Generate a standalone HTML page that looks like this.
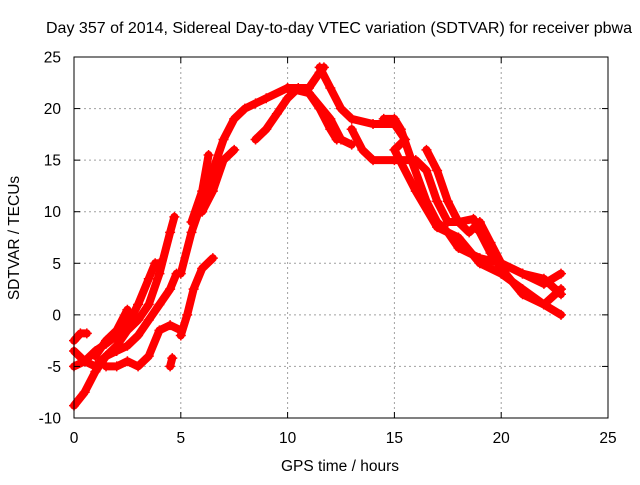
<!DOCTYPE html>
<html><head><meta charset="utf-8"><style>
body{margin:0;background:#fff}
svg{font-family:"Liberation Sans",sans-serif;font-size:15.5px}
</style></head><body>
<svg id="chart" width="640" height="480" xmlns="http://www.w3.org/2000/svg">
<text x="339" y="33" text-anchor="middle" font-size="16" textLength="586" lengthAdjust="spacingAndGlyphs">Day 357 of 2014, Sidereal Day-to-day VTEC variation (SDTVAR) for receiver pbwa</text>
<text x="340" y="471" text-anchor="middle">GPS time / hours</text>
<text transform="translate(19,238) rotate(-90)" text-anchor="middle">SDTVAR / TECUs</text>
<g id="grid"></g>
<g id="series"></g>
<rect x="74" y="57" width="534" height="361" fill="none" stroke="#000" stroke-width="1"/>
<g id="ticks"></g>
</svg>
<script>
const xTicks=[0,5,10,15,20,25];
const yTicks=[-10,-5,0,5,10,15,20,25];
const trackA=[[0,-8.8],[0.5,-7.5],[1,-5.5],[1.5,-4],[2,-3],[2.5,-1.5],[3,-0.5],[3.5,1],[4,4],[4.5,8],[4.7,9.5]];
const trackB=[[0,-2.5],[0.3,-1.8],[0.6,-1.8]];
const trackC=[[0,-5],[0.5,-4.5],[1,-3.5],[1.5,-2.8],[2,-2],[2.5,-1],[3,1],[3.5,3.5],[3.8,5],[4,5]];
const trackD=[[0,-3.5],[0.5,-4.5],[1,-5],[1.5,-4],[2,-3.5],[2.5,-3],[3,-2],[3.5,-0.5],[4,1],[4.5,2.5],[4.8,4]];
const trackE=[[1.5,-5],[2,-5],[2.5,-4.5],[3,-5],[3.5,-4],[4,-1.5],[4.5,-1],[5,-1.5]];
const trackF=[[1,-4],[1.5,-2.5],[2,-1.5],[2.5,0.5]];
const trackG=[[4.5,-5],[4.6,-4.2]];
const trackH=[[5,-2],[5.3,0],[5.6,2.5],[6,4.5],[6.5,5.5]];
const trackI=[[5,4],[5.5,8],[6,11],[6.5,14],[7,17],[7.5,19],[8,20],[8.5,20.5],[9,21],[10,22],[11,22],[11.5,23.5],[11.7,24]];
const trackJ=[[5.5,9],[6,12],[6.3,15.5]];
const trackK=[[6,10],[6.5,12],[7,15],[7.5,16]];
const trackL=[[8.5,17],[9,18],[9.5,19.5],[10,21],[10.5,22],[11,21.5],[11.5,20],[12,18],[12.3,17]];
const trackM=[[10,22],[11,21.5],[12,19],[12.5,17],[13,16.5]];
const trackN=[[11.5,24],[12,22],[12.5,20],[13,19],[14,18.5],[15,18.5],[15.5,17],[15,16],[16,12],[17,8.5],[18,7.5],[19,5],[20,4],[21,2.5],[22,1],[22.8,0]];
const trackO=[[13,18],[13.5,16],[14,15],[15,15],[16,15],[16.5,14],[17,11],[17.5,9],[18,9],[18.5,8],[19,9],[19.5,7],[20,5],[21,4],[22,3],[22.8,4]];
const trackP=[[14.5,19],[15,19],[15.3,18],[15.8,15],[16.5,11],[17,9],[17.5,8],[18,6.5],[19,5.5],[20,5],[21,4],[22,3.5],[22.8,2]];
const trackQ=[[16.5,16],[17,14],[17.5,11],[18,9],[18.7,9.3],[19,8],[19.5,6],[20,4.5],[21,2],[22,1],[22.8,2.5]];
const tracks=[trackA,trackB,trackC,trackD,trackE,trackF,trackG,trackH,trackI,trackJ,trackK,trackL,trackM,trackN,trackO,trackP,trackQ];
const NS="http://www.w3.org/2000/svg";
const X=v=>74+v*534/25, Y=v=>418-(v+10)*361/35;
const grid=document.getElementById('grid'),ticks=document.getElementById('ticks'),ser=document.getElementById('series');
function mk(t,a,p){const e=document.createElementNS(NS,t);for(const k in a)e.setAttribute(k,a[k]);p.appendChild(e);return e;}
xTicks.forEach(v=>{
 if(v>0&&v<25){const g=mk('line',{x1:X(v),x2:X(v),y1:57,y2:418,stroke:'#a0a0a0','stroke-dasharray':'2,3'},grid);
 
 }
 mk('line',{x1:X(v),x2:X(v),y1:418,y2:412,stroke:'#000'},ticks);
 mk('line',{x1:X(v),x2:X(v),y1:57,y2:63,stroke:'#000'},ticks);
 const t=mk('text',{x:X(v),y:443,'text-anchor':'middle'},ticks);t.textContent=v;
 
 
});
yTicks.forEach(v=>{
 if(v>-10&&v<25){const g=mk('line',{x1:74,x2:608,y1:Y(v),y2:Y(v),stroke:'#a0a0a0','stroke-dasharray':'2,3'},grid);
 
 }
 mk('line',{x1:74,x2:80,y1:Y(v),y2:Y(v),stroke:'#000'},ticks);
 mk('line',{x1:608,x2:602,y1:Y(v),y2:Y(v),stroke:'#000'},ticks);
 const t=mk('text',{x:61,y:Y(v)+5.5,'text-anchor':'end'},ticks);t.textContent=v;
 
 
});
tracks.forEach((tr,i)=>{
 const p=mk('polyline',{points:tr.map(d=>X(d[0])+','+Y(d[1])).join(' '),fill:'none',stroke:'#ff0000','stroke-width':8,'stroke-linejoin':'round','stroke-linecap':'round'},ser);
 
 
 tr.forEach(d=>{const m=mk('path',{d:`M${X(d[0])-5},${Y(d[1])}h10M${X(d[0])},${Y(d[1])-5}v10`,stroke:'#ff0000','stroke-width':1.5},ser);
  
  });
});
</script>
</body></html>
